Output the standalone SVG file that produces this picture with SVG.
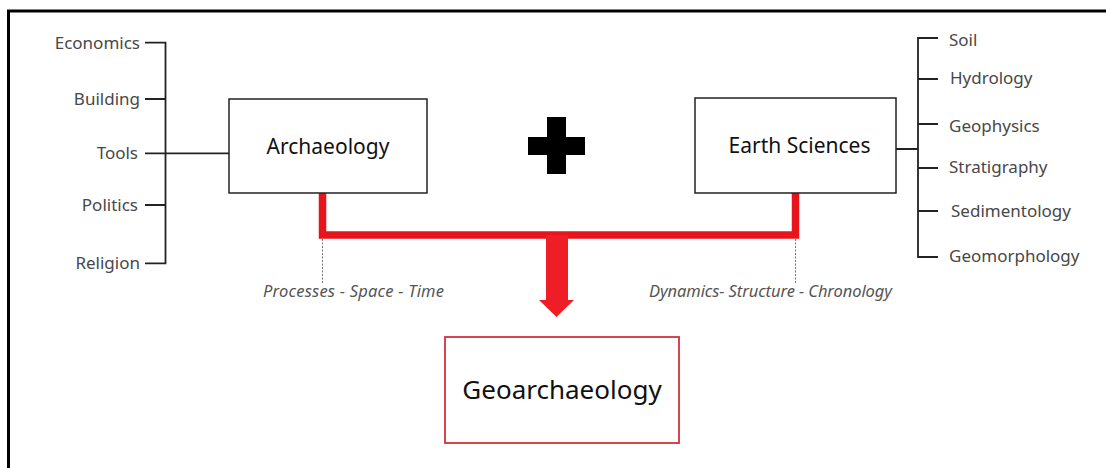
<svg xmlns="http://www.w3.org/2000/svg" width="1106" height="468" viewBox="0 0 1106 468">
<style>
.lbl{font-family:"Noto Sans","Open Sans","Liberation Sans",sans-serif;font-size:17px;fill:#484848}
.box{fill:#fff;stroke:#222;stroke-width:1.5}
.boxtxt{font-family:"Noto Sans","Open Sans","Liberation Sans",sans-serif;font-size:21px;fill:#111;text-anchor:middle}
.tree{fill:none;stroke:#222;stroke-width:1.8}
.ital{font-family:"Noto Sans","Open Sans","Liberation Sans",sans-serif;font-style:italic;font-size:16.5px;fill:#555;text-anchor:middle}
.dot{stroke:#777;stroke-width:1;stroke-dasharray:2 1.5}
.red{fill:none;stroke:#e8141b;stroke-width:7.5}
</style>
<rect width="1106" height="468" fill="#fff"/>
<g id="frame">
<path d="M8.5 468 V11 H1106" fill="none" stroke="#000" stroke-width="3"/>
</g>
<g id="connectors">
<path class="tree" d="M145 42.7 H165.5 V263.3 H145 M145 99 H165.5 M145 153.3 H229 M145 205 H165.5"/>
<path class="tree" d="M938 38 H918 V257 H938 M938 79 H918 M938 124 H918 M938 168 H918 M938 211 H918 M896 149 H918"/>
<path class="red" d="M322.5 193 V235 H795.5 V193"/>
<path d="M546 235 H568 V300 H574 L556.5 317 L539 300 H546 Z" fill="#ef1d25"/>
<line class="dot" x1="322.5" y1="239" x2="322.5" y2="283"/>
<line class="dot" x1="795.5" y1="239" x2="795.5" y2="283"/>
</g>
<g id="left-labels">
<text class="lbl" x="140" y="49" text-anchor="end">Economics</text>
<text class="lbl" x="140" y="105" text-anchor="end">Building</text>
<text class="lbl" x="138" y="159" text-anchor="end">Tools</text>
<text class="lbl" x="138" y="211" text-anchor="end">Politics</text>
<text class="lbl" x="140" y="269" text-anchor="end">Religion</text>
</g>
<g id="right-labels">
<text class="lbl" x="949" y="46">Soil</text>
<text class="lbl" x="950" y="84">Hydrology</text>
<text class="lbl" x="949" y="132">Geophysics</text>
<text class="lbl" x="949" y="173">Stratigraphy</text>
<text class="lbl" x="951" y="217">Sedimentology</text>
<text class="lbl" x="949" y="262">Geomorphology</text>
</g>
<g id="archaeology">
<rect class="box" x="229" y="99" width="198" height="94"/>
<text class="boxtxt" x="328" y="154">Archaeology</text>
</g>
<g id="earth-sciences">
<rect class="box" x="695" y="98" width="201" height="95"/>
<text class="boxtxt" x="799.5" y="153">Earth Sciences</text>
</g>
<g id="plus">
<rect x="547" y="117" width="19" height="57" fill="#000"/>
<rect x="528" y="137" width="57" height="18" fill="#000"/>
</g>
<g id="left-caption">
<text class="ital" x="353.5" y="297" textLength="181" lengthAdjust="spacing">Processes - Space - Time</text>
</g>
<g id="right-caption">
<text class="ital" x="770.5" y="297" textLength="243" lengthAdjust="spacing">Dynamics- Structure - Chronology</text>
</g>
<g id="geoarchaeology">
<rect x="445" y="337" width="234" height="106" fill="#fff" stroke="#d0323c" stroke-width="1.8"/>
<text class="boxtxt" x="562" y="399" style="font-size:26px">Geoarchaeology</text>
</g>
</svg>
